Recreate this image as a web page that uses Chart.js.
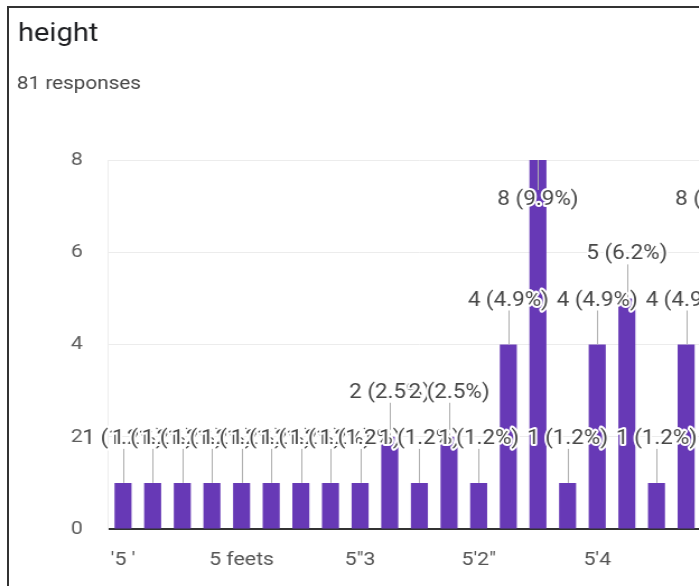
<!DOCTYPE html>
<html>
<head>
<meta charset="utf-8">
<script src="https://cdn.jsdelivr.net/npm/chart.js@4.4.1/dist/chart.umd.min.js"></script>
<style>
  html, body { margin: 0; padding: 0; background: #fff; overflow: hidden; }
  #frame { position: relative; width: 699px; height: 586px; overflow: hidden; }
  #stage { position: absolute; left: 0; top: 0; transform: scaleX(1.12); transform-origin: 0 0; }
  #edge { position: absolute; left: 7px; top: 6px; width: 720px; height: 620px;
          border-top: 2px solid #333; border-left: 2px solid #333; }
</style>
</head>
<body>
<div id="frame">
  <div id="stage"><canvas id="heightChart" width="690" height="586"></canvas></div>
  <div id="edge"></div>
</div>
<script>
// answers to the "height" question, in the order the form lists them
const categories = ["'5 '", '', '', '', '5 feets', '', '', '', '5"3', '', '', '', '5\'2"', '', '', '', "5'4", '', '', '', "5'5\""];
const counts = [1, 1, 1, 1, 1, 1, 1, 1, 1, 2, 1, 2, 1, 4, 8, 1, 4, 5, 1, 4, 8];
const yTicks = [0, 2, 4, 6, 8];
const totalResponses = 81;

Chart.defaults.font.family = 'Roboto';

const heading = {
    id: 'heading',
    beforeDraw(chart) {
        const ctx = chart.ctx;
        ctx.save();
        ctx.fillStyle = '#fff';
        ctx.fillRect(0, 0, chart.width, chart.height);
        ctx.textAlign = 'left';
        ctx.textBaseline = 'alphabetic';
        ctx.fillStyle = '#202124';
        ctx.font = '26px Roboto';
        ctx.fillText('height', 16, 41);
        ctx.fillStyle = '#474747';
        ctx.font = '18.5px Roboto';
        ctx.fillText(totalResponses + ' responses', 15, 89);
        ctx.restore();
    }
};

// "n (p%)" labels with a leader line, each one haloed in white
const barLabels = {
    id: 'barLabels',
    afterDatasetsDraw(chart) {
        const ctx = chart.ctx;
        const area = chart.chartArea;
        const bars = chart.getDatasetMeta(0).data;
        const spots = bars.map((bar, i) => {
            const v = counts[i];
            let ty = bar.y - 44;
            let end = ty + 10;
            if (ty < area.top + 20) {
                ty = bar.y + 40;
                end = ty - 10;
            }
            const pct = (v / totalResponses * 100).toFixed(1);
            return { x: bar.x, top: bar.y, ty: ty, end: end, text: v + ' (' + pct + '%)' };
        });

        ctx.save();
        ctx.strokeStyle = '#b0b0b0';
        ctx.lineWidth = 1;
        spots.forEach(s => {
            const lx = Math.round(s.x) + 0.5;
            ctx.beginPath();
            ctx.moveTo(lx, s.top);
            ctx.lineTo(lx, s.end);
            ctx.stroke();
        });

        ctx.font = '20px Roboto';
        ctx.textAlign = 'center';
        ctx.textBaseline = 'middle';
        ctx.lineJoin = 'round';
        spots.forEach(s => {
            ctx.lineWidth = 4;
            ctx.strokeStyle = '#fff';
            ctx.strokeText(s.text, s.x, s.ty);
            ctx.fillStyle = '#474747';
            ctx.fillText(s.text, s.x, s.ty);
        });
        ctx.restore();
    }
};

new Chart(document.getElementById('heightChart'), {
    type: 'bar',
    data: {
        labels: categories,
        datasets: [{
            data: counts,
            backgroundColor: '#6739b6',
            barPercentage: 0.574,
            categoryPercentage: 1
        }]
    },
    options: {
        responsive: false,
        animation: false,
        devicePixelRatio: 1,
        layout: {
            padding: { left: 0, top: 160, right: 37.7, bottom: 17 }
        },
        plugins: {
            legend: { display: false },
            tooltip: { enabled: false }
        },
        scales: {
            x: {
                grid: { display: false },
                border: { color: '#333', width: 2 },
                ticks: {
                    autoSkip: false,
                    maxRotation: 0,
                    padding: 12,
                    color: '#555',
                    font: { size: 19 }
                },
                afterFit(scale) { scale.height = 40; }
            },
            y: {
                min: 0,
                max: 8,
                afterBuildTicks(scale) {
                    scale.ticks = yTicks.map(v => ({ value: v }));
                },
                grid: {
                    drawTicks: false,
                    color: ctx => ctx.tick.value === 0 ? 'rgba(0,0,0,0)' : '#ececec'
                },
                border: { color: '#eeeeee' },
                ticks: {
                    padding: 22.6,
                    color: '#5f5f5f',
                    font: { size: 19 }
                },
                afterFit(scale) { scale.width = 96.6; }
            }
        }
    },
    plugins: [heading, barLabels]
});
</script>
</body>
</html>
